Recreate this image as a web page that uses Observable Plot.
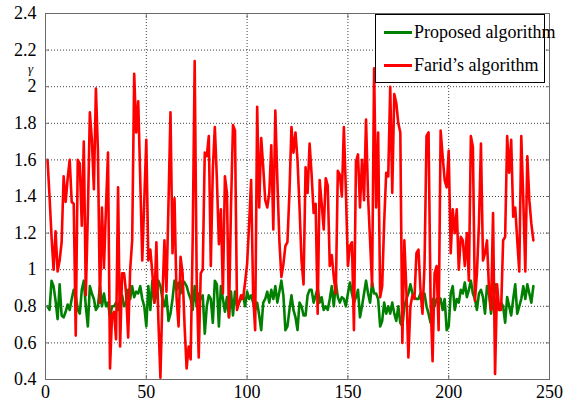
<!DOCTYPE html>
<html>
<head>
<meta charset="utf-8">
<script src="https://cdn.jsdelivr.net/npm/d3@7"></script>
<script src="https://cdn.jsdelivr.net/npm/@observablehq/plot@0.6"></script>
<style>
  body { margin: 0; background: #fff; }
  #wrap { position: relative; width: 563px; height: 403px; font-family: "Liberation Serif", "Times New Roman", serif; }
  #wrap svg { position: absolute; left: 0; top: 0; }
  #wrap svg text { font-family: "Liberation Serif", "Times New Roman", serif !important; }
  .legend { position: absolute; left: 375px; top: 14px; width: 170px; height: 69px; border: 1px solid #000; background: #fff; box-sizing: border-box; }
  .legend .row { position: absolute; left: 0; height: 18px; line-height: 18px; font-size: 18px; white-space: nowrap; color: #000; }
  .legend .sw { position: absolute; left: 8px; width: 28px; height: 3px; }
  .legend .tx { position: absolute; left: 38px; top: 0; }
</style>
</head>
<body>
<div id="wrap"></div>
<script>
// Tick values and labels
const xTicks = [0, 50, 100, 150, 200, 250];
const yTicks = [0.4, 0.6, 0.8, 1.0, 1.2, 1.4, 1.6, 1.8, 2.0, 2.2, 2.4];
const yLabel = "γ";
const seriesNames = ["Proposed algorithm", "Farid’s algorithm"];
const seriesColors = ["#008000", "#ff0000"];

// Proposed algorithm (green), samples 1..242
const proposed = [
  0.80,0.78,0.94,0.91,0.83,0.73,0.92,0.75,0.74,0.77,
  0.81,0.78,0.84,0.89,0.86,0.78,0.76,0.89,0.94,0.80,
  0.69,0.91,0.87,0.84,0.78,0.80,0.91,0.80,0.87,0.80,
  0.82,0.74,0.80,0.80,0.82,0.78,0.84,0.86,0.80,0.82,
  0.89,0.84,0.91,0.85,0.88,0.87,0.91,0.84,0.80,0.69,
  0.91,0.78,0.94,0.82,0.86,0.94,0.91,0.84,0.80,0.86,
  0.72,0.76,0.84,0.94,0.89,0.93,0.87,0.94,0.93,0.91,
  0.87,0.84,0.78,0.91,0.80,0.87,0.84,0.86,0.65,0.80,
  0.86,0.84,0.71,0.94,0.92,0.69,0.91,0.84,0.77,0.85,
  0.74,0.88,0.75,0.88,0.80,0.82,0.84,0.86,0.80,0.88,
  0.84,0.86,0.82,0.78,0.82,0.75,0.67,0.82,0.84,0.88,
  0.82,0.89,0.84,0.91,0.82,0.88,0.94,0.86,0.67,0.69,
  0.78,0.86,0.78,0.74,0.67,0.82,0.80,0.75,0.75,0.86,
  0.89,0.89,0.82,0.86,0.90,0.82,0.85,0.78,0.80,0.78,
  0.84,0.91,0.80,0.93,0.85,0.82,0.85,0.84,0.80,0.87,
  0.93,0.87,0.82,0.85,0.89,0.74,0.80,0.87,0.94,0.87,
  0.82,0.93,0.87,0.87,0.84,0.69,0.72,0.82,0.76,0.80,
  0.76,0.82,0.76,0.72,0.80,0.71,0.69,0.80,0.84,0.87,
  0.92,0.87,0.85,0.84,0.84,0.87,0.84,0.87,0.80,0.76,
  0.71,0.84,0.80,0.84,0.85,0.84,0.78,0.84,0.67,0.69,
  0.87,0.91,0.78,0.84,0.82,0.89,0.87,0.93,0.85,0.89,
  0.94,0.87,0.84,0.78,0.87,0.89,0.85,0.76,0.91,0.87,
  0.76,0.84,0.92,0.85,0.78,0.82,0.80,0.71,0.85,0.80,
  0.75,0.84,0.92,0.76,0.80,0.84,0.91,0.84,0.92,0.87,
  0.82,0.91
];

// Farid's algorithm (red), samples 1..242
const farid = [
  1.60,1.40,1.18,1.00,1.21,0.99,1.05,1.15,1.51,1.37,
  1.50,1.60,1.37,1.36,0.64,1.60,1.58,1.24,1.70,0.86,
  1.30,1.86,1.71,1.44,1.99,1.65,0.82,1.34,1.01,1.34,
  1.64,0.46,0.75,0.77,0.62,1.45,0.58,0.98,0.98,0.87,
  0.63,1.00,1.16,2.07,1.75,1.92,1.49,1.05,1.38,1.71,
  1.05,1.11,0.98,0.82,1.15,0.72,0.41,0.85,1.16,0.88,
  1.36,1.86,1.09,1.39,0.85,0.69,1.07,0.98,0.69,0.46,
  0.58,0.51,1.16,2.14,0.94,0.52,0.98,1.00,1.64,1.62,
  1.73,1.02,1.55,1.78,1.50,1.14,1.33,0.87,1.51,1.42,
  0.74,1.34,1.79,1.76,0.78,0.82,0.86,0.84,0.93,1.03,
  1.25,1.49,0.86,0.67,1.89,1.34,1.72,1.56,1.38,1.34,
  1.42,1.68,1.22,1.87,1.49,1.16,0.96,1.03,1.13,1.15,
  1.42,1.78,1.64,1.75,1.60,1.34,1.05,0.92,1.56,1.42,
  1.69,1.52,1.31,1.36,0.76,1.49,1.36,1.22,1.50,1.46,
  1.02,1.08,0.96,0.87,1.54,1.52,1.40,1.78,1.43,1.02,
  1.13,1.15,0.67,1.59,1.63,1.34,1.60,1.38,1.82,1.40,
  1.16,0.91,2.10,1.34,1.75,0.85,0.91,1.26,1.53,1.51,
  2.00,1.42,1.96,1.91,1.80,1.75,0.60,1.16,0.89,0.52,
  0.80,0.86,0.84,1.09,1.11,0.89,0.76,1.02,1.73,1.75,
  0.84,0.50,0.98,1.02,0.67,1.76,1.62,1.49,1.45,1.65,
  1.09,1.33,1.20,1.33,1.00,1.18,1.16,1.02,1.20,0.94,
  1.73,1.67,0.83,0.98,1.25,1.69,1.05,1.09,1.16,0.89,
  0.78,1.31,0.43,0.92,0.78,0.78,1.16,1.18,1.73,1.53,
  1.71,1.29,1.34,1.16,0.99,1.73,1.38,0.99,1.62,1.38,
  1.25,1.16
];

const serif = "'Liberation Serif', 'Times New Roman', serif";
const toRows = (arr) => arr.map((v, i) => ({x: i + 1, y: v}));
const fmtY = d => String(+d.toFixed(1));
const gridStyle = {stroke: "#000", strokeOpacity: 0.75, strokeWidth: 1, strokeDasharray: "1,2"};

const chart = Plot.plot({
  width: 563,
  height: 403,
  marginLeft: 45,
  marginRight: 14,
  marginTop: 13,
  marginBottom: 24,
  style: {fontFamily: serif, fontSize: "18px", background: "transparent", color: "#000"},
  x: {domain: [0, 250], label: null},
  y: {domain: [0.4, 2.4], label: null},
  marks: [
    Plot.gridX(xTicks.slice(1, -1), gridStyle),
    Plot.gridY(yTicks.slice(1, -1), gridStyle),
    Plot.line(toRows(proposed), {x: "x", y: "y", stroke: seriesColors[0], strokeWidth: 2.6, strokeLinejoin: "round"}),
    Plot.line(toRows(farid), {x: "x", y: "y", stroke: seriesColors[1], strokeWidth: 2.6, strokeLinejoin: "round"}),
    Plot.frame({stroke: "#6a6a6a", strokeWidth: 1}),
    Plot.axisX({ticks: xTicks, tickSize: -4, tickFormat: () => "", stroke: "#6a6a6a"}),
    Plot.axisX({ticks: xTicks, anchor: "top", tickSize: -4, tickFormat: () => "", stroke: "#6a6a6a"}),
    Plot.axisY({ticks: yTicks, tickSize: -4, tickFormat: () => "", stroke: "#6a6a6a"}),
    Plot.axisY({ticks: yTicks, anchor: "right", tickSize: -4, tickFormat: () => "", stroke: "#6a6a6a"}),
    Plot.axisX({ticks: xTicks, tickSize: 0, tickPadding: 6, fontSize: 18, fontFamily: serif}),
    Plot.axisY({ticks: yTicks, tickSize: 0, tickPadding: 9, tickFormat: fmtY, fontSize: 18, fontFamily: serif}),
    Plot.text([yLabel], {frameAnchor: "top-left", lineAnchor: "middle", text: d => d, dx: -15, dy: 55, textAnchor: "middle", fontSize: 13, fontStyle: "italic", fontFamily: serif})
  ]
});

const wrap = document.getElementById("wrap");
wrap.appendChild(chart);

const legend = document.createElement("div");
legend.className = "legend";
seriesNames.forEach((name, i) => {
  const row = document.createElement("div");
  row.className = "row";
  row.style.top = (7.5 + i * 33) + "px";
  const sw = document.createElement("div");
  sw.className = "sw";
  sw.style.background = seriesColors[i];
  sw.style.top = "8px";
  const tx = document.createElement("span");
  tx.className = "tx";
  tx.textContent = name;
  row.appendChild(sw);
  row.appendChild(tx);
  legend.appendChild(row);
});
wrap.appendChild(legend);
</script>
</body>
</html>
